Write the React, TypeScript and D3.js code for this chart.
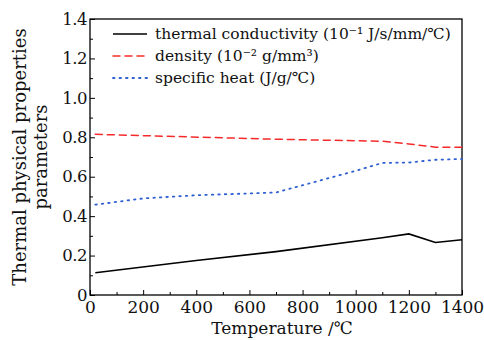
import React, { useEffect, useRef } from "react";
import * as d3 from "d3";

const conductivityT = [20, 400, 700, 1100, 1200, 1300, 1400];
const conductivity = [0.113, 0.175, 0.22, 0.29, 0.31, 0.266, 0.28];

const densityT = [20, 700, 1100, 1200, 1300, 1400];
const density = [0.815, 0.79, 0.78, 0.766, 0.75, 0.75];

const heatT = [20, 200, 400, 700, 1000, 1100, 1200, 1300, 1400];
const heat = [0.458, 0.49, 0.506, 0.52, 0.63, 0.67, 0.672, 0.686, 0.69];

const xTicks = [0, 200, 400, 600, 800, 1000, 1200, 1400];
const yTicks = [0, 0.2, 0.4, 0.6, 0.8, 1.0, 1.2, 1.4];

const legendLabels = [
    "thermal conductivity (10\u207B\u00B9 J/s/mm/\u2103)",
    "density (10\u207B\u00B2 g/mm\u00B3)",
    "specific heat (J/g/\u2103)",
];

const App: React.FC = () => {
    const svgRef = useRef<SVGSVGElement | null>(null);

    useEffect(() => {
        if (!svgRef.current) return;
        const svg = d3.select(svgRef.current);
        svg.selectAll("*").remove();

        const width = 484;
        const height = 340;
        const margin = { top: 19, right: 22, bottom: 45, left: 90 };
        const font = "DejaVu Serif";

        const x = d3.scaleLinear().domain([0, 1400]).range([margin.left, width - margin.right]);
        const y = d3.scaleLinear().domain([0, 1.4]).range([height - margin.bottom, margin.top]);

        svg.attr("width", width).attr("height", height);

        // minor ticks
        svg.append("g")
            .attr("transform", `translate(0,${height - margin.bottom})`)
            .call(d3.axisBottom(x).tickValues(d3.range(100, 1400, 200)).tickSize(-3).tickFormat(() => ""))
            .call((g) => g.select(".domain").remove())
            .selectAll("line").attr("stroke", "#000");
        svg.append("g")
            .attr("transform", `translate(${margin.left},0)`)
            .call(d3.axisLeft(y).tickValues([0.1, 0.3, 0.5, 0.7, 0.9, 1.1, 1.3]).tickSize(-3).tickFormat(() => ""))
            .call((g) => g.select(".domain").remove())
            .selectAll("line").attr("stroke", "#000");

        // major ticks
        const xAxis = svg.append("g")
            .attr("transform", `translate(0,${height - margin.bottom})`)
            .call(d3.axisBottom(x).tickValues(xTicks).tickSize(-5).tickPadding(6).tickFormat(d3.format("d")));
        xAxis.select(".domain").remove();
        xAxis.attr("font-family", font);
        xAxis.selectAll("line").attr("stroke", "#000");
        xAxis.selectAll("text")
            .attr("font-size", "17px")
            .attr("fill", "#111");

        const yAxis = svg.append("g")
            .attr("transform", `translate(${margin.left},0)`)
            .call(d3.axisLeft(y).tickValues(yTicks).tickSize(-5).tickPadding(3)
                .tickFormat((d) => (d === 0 ? "0" : d3.format(".1f")(d as number))));
        yAxis.select(".domain").remove();
        yAxis.attr("font-family", font);
        yAxis.selectAll("line").attr("stroke", "#000");
        yAxis.selectAll("text")
            .attr("font-size", "16.5px")
            .attr("letter-spacing", "-0.5px")
            .attr("fill", "#111");

        // frame
        svg.append("rect")
            .attr("x", margin.left)
            .attr("y", margin.top)
            .attr("width", width - margin.left - margin.right)
            .attr("height", height - margin.top - margin.bottom)
            .attr("fill", "none")
            .attr("stroke", "#000")
            .attr("stroke-width", 1.3);

        const series = [
            { t: conductivityT, v: conductivity, color: "#000", dash: "none", w: 1.6 },
            { t: densityT, v: density, color: "#f52a2a", dash: "7,5", w: 1.5 },
            { t: heatT, v: heat, color: "#2f5fd0", dash: "1.5,5", w: 1.8 },
        ];

        const line = d3.line<[number, number]>()
            .x((d) => x(d[0]))
            .y((d) => y(d[1]));

        series.forEach((s) => {
            const pts = s.t.map((t, i) => [t, s.v[i]] as [number, number]);
            svg.append("path")
                .attr("d", line(pts))
                .attr("fill", "none")
                .attr("stroke", s.color)
                .attr("stroke-width", s.w)
                .attr("stroke-dasharray", s.dash)
                .attr("stroke-linecap", s.dash === "none" ? "butt" : "round");
        });

        // legend
        const legend = svg.append("g");
        legendLabels.forEach((label, i) => {
            const yy = 34 + i * 22;
            const s = series[i];
            legend.append("line")
                .attr("x1", 113).attr("x2", 147)
                .attr("y1", yy).attr("y2", yy)
                .attr("stroke", s.color)
                .attr("stroke-width", s.w)
                .attr("stroke-dasharray", s.dash)
                .attr("stroke-linecap", s.dash === "none" ? "butt" : "round");
            legend.append("text")
                .attr("x", 155)
                .attr("y", yy + 5)
                .text(label)
                .attr("font-family", font)
                .attr("font-size", "15.5px")
                .attr("fill", "#111");
        });

        // axis titles
        svg.append("text")
            .attr("x", 282)
            .attr("y", 334)
            .attr("text-anchor", "middle")
            .text("Temperature /\u2103")
            .attr("font-family", font)
            .attr("font-size", "17px")
            .attr("fill", "#111");

        const yTitle = svg.append("text")
            .attr("transform", `translate(26,${(margin.top + height - margin.bottom) / 2}) rotate(-90)`)
            .attr("text-anchor", "middle")
            .attr("font-family", font)
            .attr("font-size", "18px")
            .attr("fill", "#111");
        yTitle.append("tspan").attr("x", 0).attr("dy", 0).text("Thermal physical properties");
        yTitle.append("tspan").attr("x", 0).attr("dy", 21).text("parameters");
    }, []);

    return (
        <div style={{ position: "absolute", left: 0, top: 0, background: "#fff" }}>
            <svg ref={svgRef}></svg>
        </div>
    );
};

export default App;
